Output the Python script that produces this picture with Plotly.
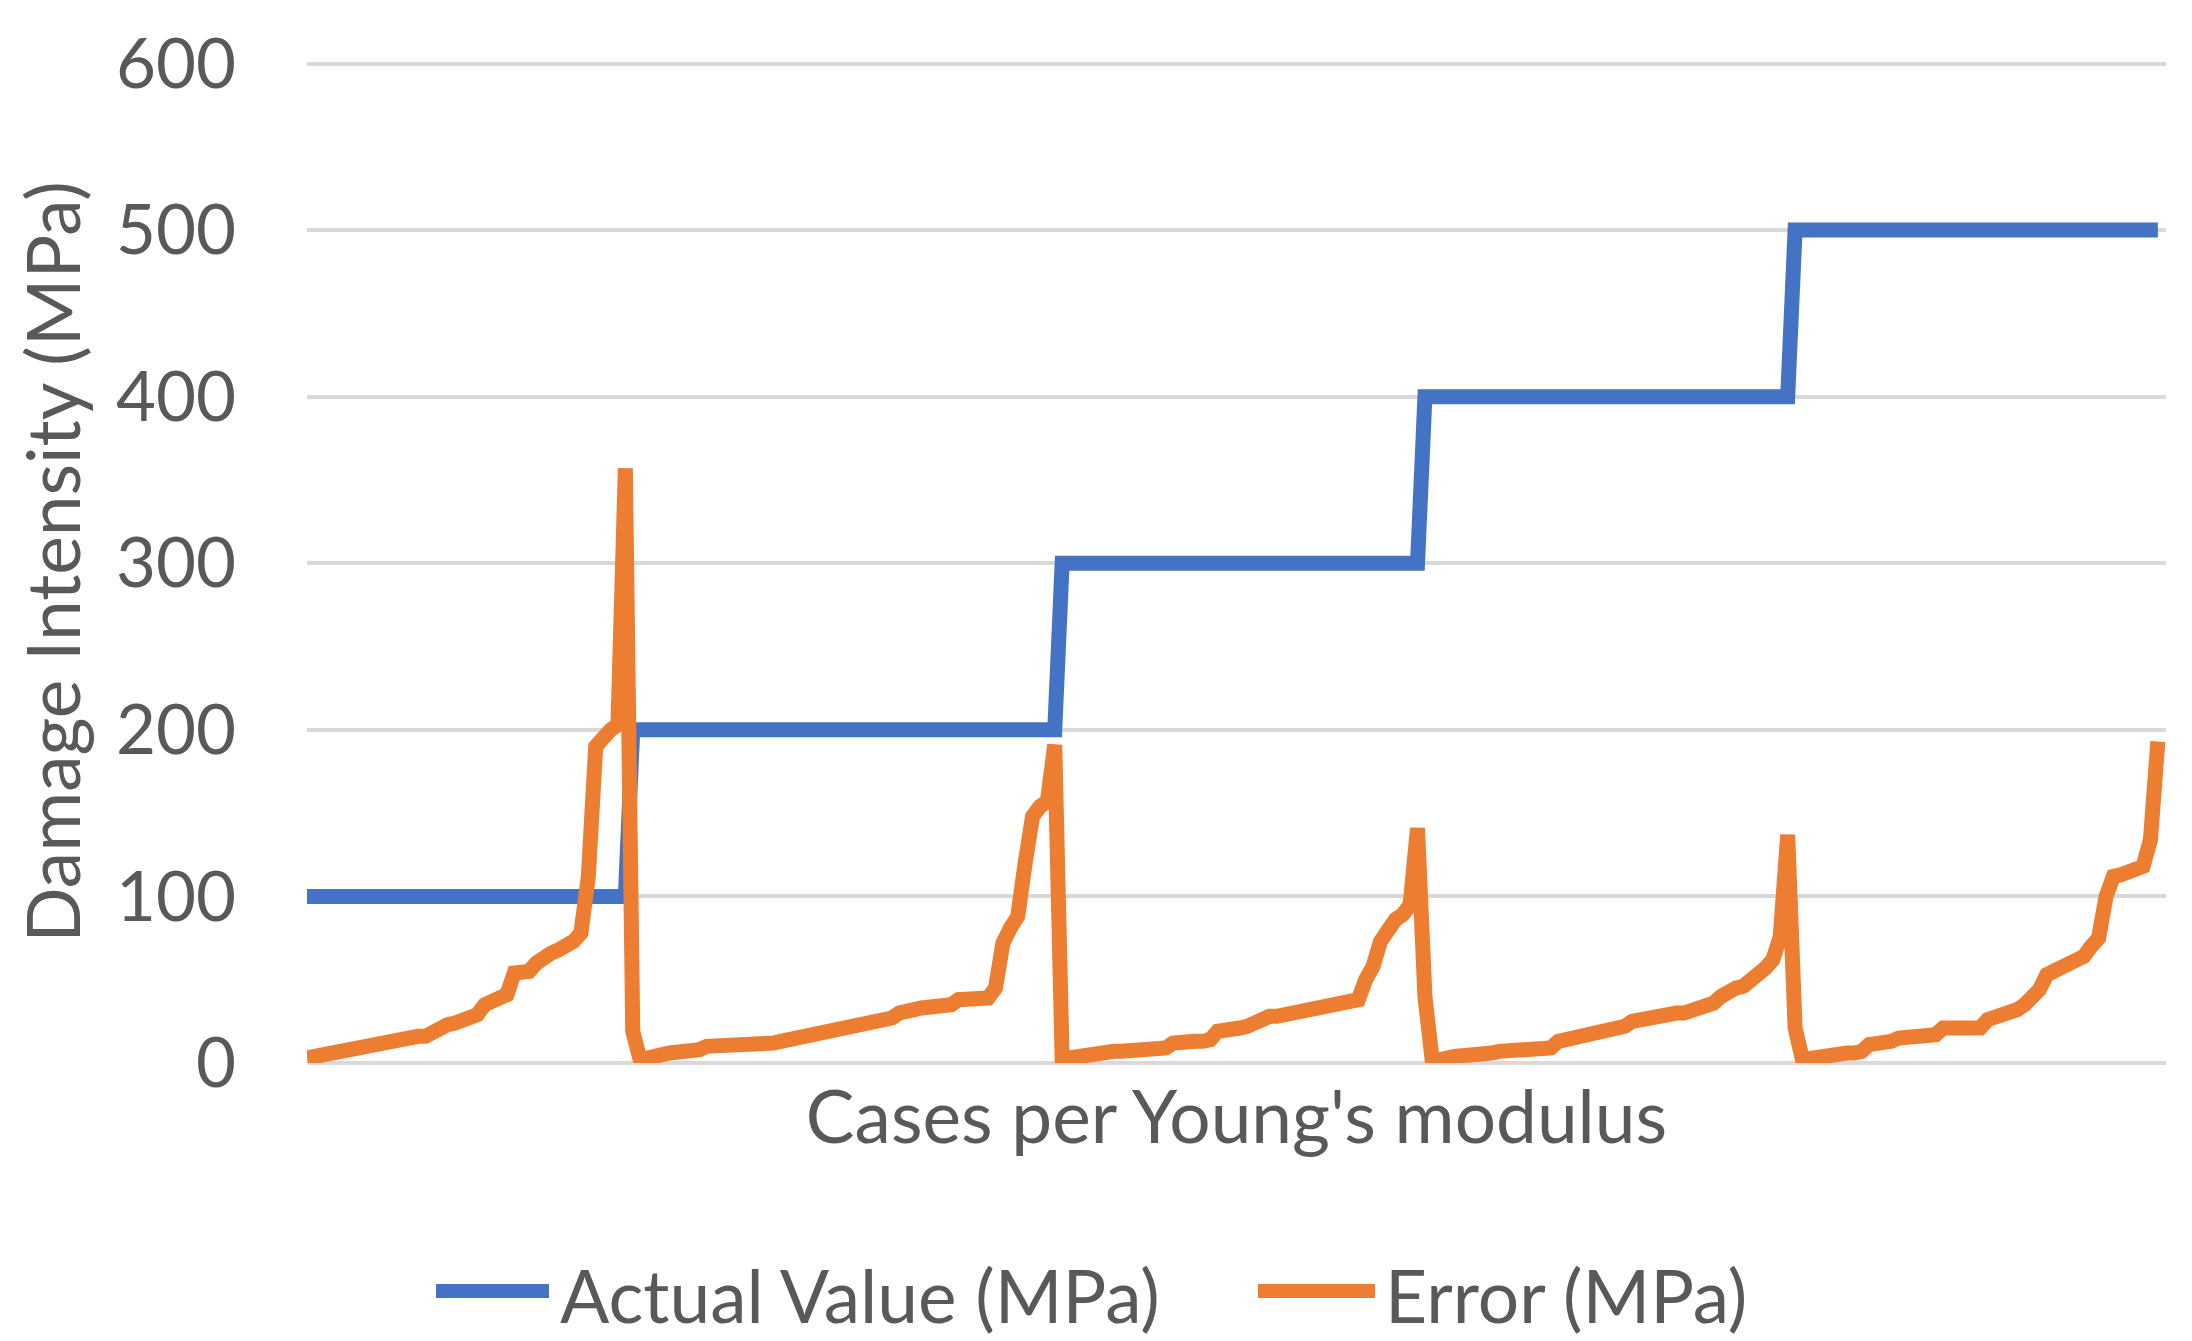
import plotly.graph_objects as go

# ---- data ----
actual_levels = [100, 200, 300, 400, 500]          # Actual Value (MPa) per Young's modulus
error_100 = [3, 4, 5, 6, 7, 8, 9, 10, 10, 11,
             12, 13, 15, 16, 16, 16, 16, 19, 21, 23,
             24, 26, 28, 29, 35, 37, 39, 41, 54, 55,
             55, 60, 64, 66, 68, 70, 73, 78, 112, 190,
             197, 200, 203, 357]
error_200 = [19, 2, 3, 5, 5, 6, 6, 6, 6, 8,
             10, 10, 10, 10, 12, 12, 12, 12, 12, 12,
             13, 14, 15, 16, 16, 17, 17, 19, 21, 21,
             22, 22, 24, 25, 26, 27, 30, 32, 32, 33,
             33, 33, 34, 35, 38, 38, 39, 39, 39, 45,
             72, 81, 88, 120, 148, 154, 157, 191]
error_300 = [2, 3, 4, 5, 5, 6, 7, 7, 7, 7,
             7, 8, 9, 9, 9, 12, 13, 13, 13, 13,
             14, 19, 19, 21, 21, 22, 24, 27, 28, 28,
             29, 29, 30, 33, 34, 35, 35, 35, 36, 37,
             38, 50, 58, 73, 80, 86, 89, 95, 141]
error_400 = [40, 1, 3, 3, 4, 4, 5, 5, 6, 6,
             7, 7, 8, 8, 9, 9, 9, 9, 13, 14,
             16, 16, 17, 18, 20, 20, 20, 22, 25, 26,
             26, 27, 30, 30, 30, 30, 31, 34, 35, 36,
             40, 43, 45, 46, 49, 53, 57, 62, 76, 137]
error_500 = [21, 2, 3, 3, 4, 4, 5, 6, 6, 7,
             11, 11, 11, 13, 15, 15, 16, 16, 17, 17,
             21, 21, 21, 21, 21, 21, 26, 27, 29, 30,
             32, 35, 39, 44, 53, 55, 56, 58, 60, 64,
             70, 75, 100, 112, 113, 114, 116, 118, 134, 193]
y_ticks = [0, 100, 200, 300, 400, 500, 600]

error_groups = [error_100, error_200, error_300, error_400, error_500]
actual = []
error = []
for lvl, grp in zip(actual_levels, error_groups):
    actual += [lvl] * len(grp)
    error += grp
cases = list(range(len(error)))

# ---- styling ----
BLUE = "#4472C4"
ORANGE = "#ED7D31"
GRID = "#D9D9D9"
TXT = "#595959"
FONT = "Lato"
FS_TICK = 69
FS = 73

W, H = 2192, 1341
ML, MR, MT, MB = 299, 34, 40, 286

fig = go.Figure()
fig.add_trace(go.Scatter(x=cases, y=actual, mode="lines", name="Actual Value (MPa)",
                         line=dict(color=BLUE, width=15), showlegend=False))
fig.add_trace(go.Scatter(x=cases, y=error, mode="lines", name="Error (MPa)",
                         line=dict(color=ORANGE, width=15), showlegend=False))

fig.update_layout(
    width=W, height=H,
    margin=dict(l=ML, r=MR, t=MT, b=MB, pad=0),
    paper_bgcolor="white", plot_bgcolor="white",
    font=dict(family=FONT, size=FS, color=TXT),
    showlegend=False,
)
fig.update_xaxes(range=[0, 251.1], showgrid=False, zeroline=False, showline=False,
                 showticklabels=False, ticks="",
                 title=dict(text="Cases per Young's modulus",
                            font=dict(family=FONT, size=FS, color=TXT), standoff=28))
fig.update_yaxes(range=[0, 601.5], tickvals=y_ticks, showgrid=True, gridcolor=GRID,
                 gridwidth=4, zeroline=True, zerolinecolor=GRID, zerolinewidth=4,
                 showline=False, ticks="", ticklabelstandoff=70,
                 ticklabeloverflow="allow",
                 tickfont=dict(family=FONT, size=FS_TICK, color=TXT),
                 title=dict(text="Damage Intensity (MPa)",
                            font=dict(family=FONT, size=FS, color=TXT), standoff=16))

# ---- legend drawn below the chart (long line samples as in the reference) ----
pw = W - ML - MR
ph = H - MT - MB
def px_x(v):
    return (v - ML) / pw
def px_y(v):
    return (H - MB - v) / ph

legend_items = [("Actual Value (MPa)", BLUE, 428, 541, 550),
                ("Error (MPa)", ORANGE, 1250, 1367, 1375)]
ly = 1286
for label, col, x0, x1, xt in legend_items:
    fig.add_shape(type="line", xref="paper", yref="paper",
                  x0=px_x(x0), x1=px_x(x1), y0=px_y(ly), y1=px_y(ly),
                  line=dict(color=col, width=14))
    fig.add_annotation(text=label, xref="paper", yref="paper", x=px_x(xt), y=px_y(ly + 4),
                       xanchor="left", yanchor="middle", showarrow=False,
                       font=dict(family=FONT, size=FS, color=TXT))

fig.write_html("out.html")
